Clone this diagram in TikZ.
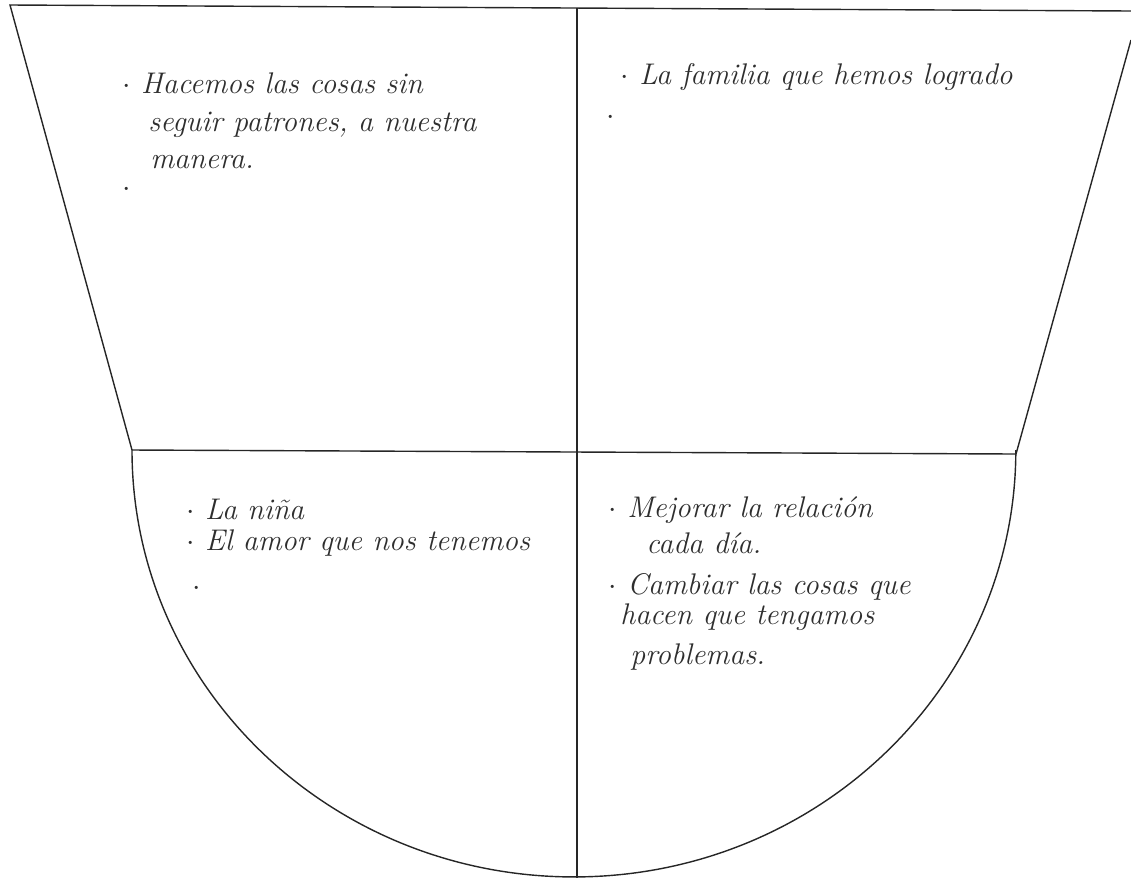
\documentclass[tikz,border=0pt]{standalone}
\usepackage{tikz}
\usetikzlibrary{positioning,calc}
\usepackage{xcolor}

\definecolor{ink}{gray}{0.18}
\tikzset{
    hand/.style={font=\fontsize{17}{20}\selectfont\itshape, text=ink, anchor=west, inner sep=0pt},
    edge/.style={line width=0.8pt, black!85}
}

\begin{document}
\begin{tikzpicture}[x=0.02cm, y=-0.02cm]
    \useasboundingbox (0,0) rectangle (1131,880);

    % Outline: trapezoid on top, half ellipse below
    \coordinate (tl) at (10,5);
    \coordinate (tr) at (1131,11);
    \coordinate (rt) at (1131,40);
    \coordinate (bl) at (132,450);
    \coordinate (br) at (1016,454);
    \draw[edge] (bl) -- (tl) -- (tr);
    \draw[edge] (rt) -- (br);
    \draw[edge] (bl) -- (br);
    \draw[edge] (bl) arc[start angle=180, end angle=360, x radius=8.84cm, y radius=8.54cm];

    % Divider
    \coordinate (top) at (577,8);
    \coordinate (bot) at (577,878);
    \draw[edge] (top) -- (bot);

    % Upper left
    \node[hand] (hacemos) at (122,83) {$\cdot$ Hacemos las cosas sin};
    \node[hand] (seguir) at (148,125) {seguir patrones, a nuestra};
    \node[hand] (manera) at (150,162) {manera.};
    \node[hand] (dotA) at (122,190) {$\cdot$};

    % Upper right
    \node[hand] (familia) at (620,77) {$\cdot$ La familia que hemos logrado};
    \node[hand] (dotB) at (606,118) {$\cdot$};

    % Lower left
    \node[hand] (nina) at (186,509) {$\cdot$ La niña};
    \node[hand] (amor) at (186,543) {$\cdot$ El amor que nos tenemos};
    \node[hand] (dotC) at (192,589) {$\cdot$};

    % Lower right
    \node[hand] (mejorar) at (608,510) {$\cdot$ Mejorar la relación};
    \node[hand] (cada) at (646,543) {cada día.};
    \node[hand] (cambiar) at (608,587) {$\cdot$ Cambiar las cosas que};
    \node[hand] (hacen) at (620,617) {hacen que tengamos};
    \node[hand] (problemas) at (630,657) {problemas.};
\end{tikzpicture}
\end{document}
